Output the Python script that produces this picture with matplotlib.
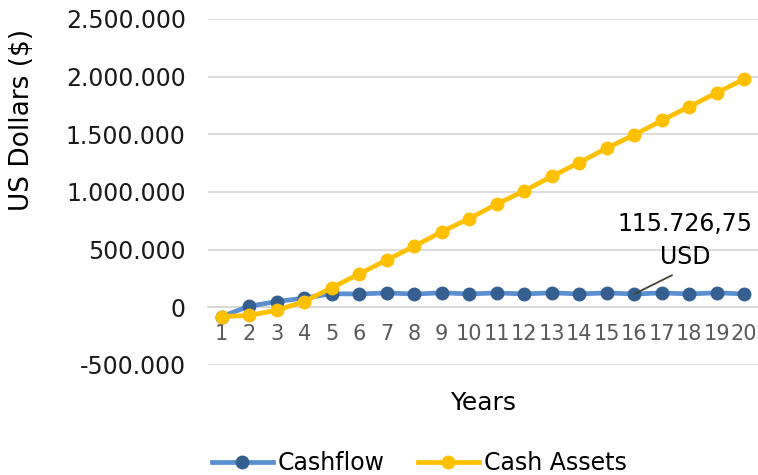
import numpy as np
import matplotlib.pyplot as plt

years = list(range(1, 21))
cashflow = [-80000, 10000, 50000, 80000, 118000, 116000, 125000, 115000, 126000, 116000,
            125000, 116000, 126000, 116000, 125000, 115726.75, 125000, 116000, 126000, 116000]
cash_assets = [-80000, -70000, -25000, 50000, 170000, 290000, 410000, 530000, 655000, 770000,
               895000, 1010000, 1135000, 1255000, 1380000, 1495000, 1620000, 1740000, 1860000, 1980000]
y_ticks = [-500000, 0, 500000, 1000000, 1500000, 2000000, 2500000]
y_tick_labels = ['-500.000', '0', '500.000', '1.000.000', '1.500.000', '2.000.000', '2.500.000']

plt.rcParams['font.family'] = 'DejaVu Sans'

fig = plt.figure(figsize=(7.58, 4.75), dpi=100)
ax = fig.add_axes([0.2744, 0.2316, 0.7256, 0.7284])

# spine position first, it resets the tick settings
for s in ['top', 'right', 'left']:
    ax.spines[s].set_visible(False)
ax.spines['bottom'].set_position(('data', 0))
ax.spines['bottom'].set_color('#D9D9D9')
ax.spines['bottom'].set_linewidth(1.3)

x = np.arange(len(years))
ax.plot(x, cashflow, color='#5B8FCF', lw=3.4, marker='o', ms=9,
        mfc='#365F91', mec='#365F91', label='Cashflow', zorder=3)
ax.plot(x, cash_assets, color='#FFC000', lw=3.4, marker='o', ms=9,
        mfc='#FFC000', mec='#FFC000', label='Cash Assets', zorder=4)

ax.set_xlim(-0.5, len(years) - 0.5)
ax.set_ylim(-500000, 2500000)
ax.set_yticks(y_ticks)
ax.set_yticklabels(y_tick_labels, fontsize=17, color='#1a1a1a')
ax.set_xticks(x)
ax.set_xticklabels([str(y) for y in years], fontsize=15, color='#595959')
ax.tick_params(axis='y', length=0, pad=16)
ax.tick_params(axis='x', length=0, pad=12)
ax.grid(axis='y', color='#D9D9D9', lw=1.3)
ax.set_axisbelow(True)

ax.set_ylabel('US Dollars ($)', fontsize=19)
ax.yaxis.set_label_coords(-0.3145, 0.708)
ax.set_xlabel('Years', fontsize=18, labelpad=34)

i = 15
ax.annotate('115.726,75\nUSD', xy=(x[i], cashflow[i]), xytext=(16.85, 580000),
            ha='center', va='center', fontsize=17, linespacing=1.45,
            arrowprops=dict(arrowstyle='-', color='#444433', lw=1.3, relpos=(0.5, 0),
                            shrinkA=6, shrinkB=0))

fig.legend(loc='lower center', bbox_to_anchor=(0.553, -0.045), ncol=2, frameon=False,
           fontsize=17, handlelength=2.6, handletextpad=0.2, columnspacing=1.4)

fig.savefig('out.png', dpi=100)
